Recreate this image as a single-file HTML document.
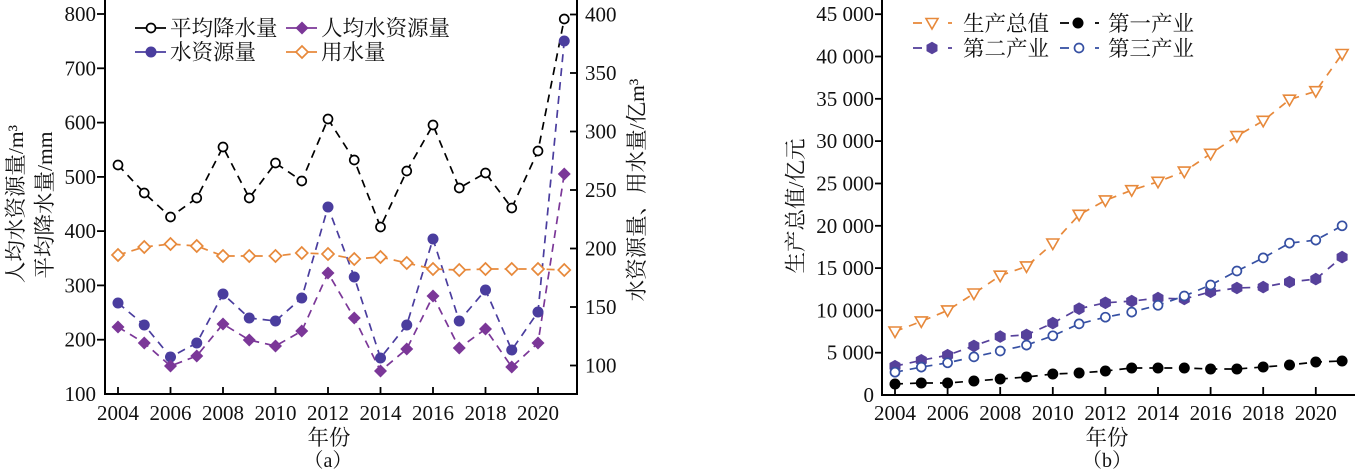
<!DOCTYPE html>
<html>
<head>
<meta charset="utf-8">
<style>
html,body{margin:0;padding:0;background:#fff;}
svg{display:block;}
text{font-family:"Liberation Serif","Noto Serif CJK SC",serif;fill:#111;}
.t{font-size:21px;}
.c{font-size:21.5px;}
</style>
</head>
<body>
<svg width="1355" height="471" viewBox="0 0 1355 471" xmlns="http://www.w3.org/2000/svg">
<defs>
  <circle id="ocB" r="4.5" fill="#fff" stroke="#000" stroke-width="1.7"/>
  <circle id="fcBlue" r="5.5" fill="#4A3D9E"/>
  <path id="dP" d="M0,-6.5 L6.5,0 L0,6.5 L-6.5,0Z" fill="#7B3798"/>
  <path id="dO" d="M0,-6 L6,0 L0,6 L-6,0Z" fill="#fff" stroke="#E7893B" stroke-width="1.7"/>
  <path id="tri" d="M-6,-4.5 L6,-4.5 L0,6 Z" fill="#fff" stroke="#E7893B" stroke-width="1.6" stroke-linejoin="miter"/>
  <path id="hex" d="M0,-6.3 L5.5,-3.15 L5.5,3.15 L0,6.3 L-5.5,3.15 L-5.5,-3.15Z" fill="#56419B"/>
  <circle id="fcK" r="5.5" fill="#000"/>
  <circle id="ocBl" r="4.5" fill="#fff" stroke="#3650A3" stroke-width="1.7"/>
</defs>

<!-- ================= LEFT CHART (a) ================= -->
<g stroke="#000" stroke-width="2" fill="none">
  <line x1="105" y1="0" x2="105" y2="395"/>
  <line x1="104" y1="394" x2="578" y2="394"/>
  <line x1="577" y1="0" x2="577" y2="395"/>
</g>
<!-- left ticks -->
<g stroke="#000" stroke-width="1.8">
  <line x1="97" y1="14" x2="105" y2="14"/>
  <line x1="97" y1="68.3" x2="105" y2="68.3"/>
  <line x1="97" y1="122.6" x2="105" y2="122.6"/>
  <line x1="97" y1="176.9" x2="105" y2="176.9"/>
  <line x1="97" y1="231.1" x2="105" y2="231.1"/>
  <line x1="97" y1="285.4" x2="105" y2="285.4"/>
  <line x1="97" y1="339.7" x2="105" y2="339.7"/>
  <!-- right ticks -->
  <line x1="570" y1="14.5" x2="577" y2="14.5"/>
  <line x1="570" y1="73" x2="577" y2="73"/>
  <line x1="570" y1="131.5" x2="577" y2="131.5"/>
  <line x1="570" y1="190" x2="577" y2="190"/>
  <line x1="570" y1="248.5" x2="577" y2="248.5"/>
  <line x1="570" y1="307" x2="577" y2="307"/>
  <line x1="570" y1="365.5" x2="577" y2="365.5"/>
  <!-- x ticks -->
  <line x1="118" y1="387" x2="118" y2="394"/>
  <line x1="170.5" y1="387" x2="170.5" y2="394"/>
  <line x1="223" y1="387" x2="223" y2="394"/>
  <line x1="275.5" y1="387" x2="275.5" y2="394"/>
  <line x1="328" y1="387" x2="328" y2="394"/>
  <line x1="380.5" y1="387" x2="380.5" y2="394"/>
  <line x1="433" y1="387" x2="433" y2="394"/>
  <line x1="485.5" y1="387" x2="485.5" y2="394"/>
  <line x1="538" y1="387" x2="538" y2="394"/>
</g>
<g class="t" text-anchor="end">
  <text x="96" y="21">800</text>
  <text x="96" y="75.3">700</text>
  <text x="96" y="129.6">600</text>
  <text x="96" y="183.9">500</text>
  <text x="96" y="238.1">400</text>
  <text x="96" y="292.4">300</text>
  <text x="96" y="346.7">200</text>
  <text x="96" y="401">100</text>
</g>
<g class="t" text-anchor="start">
  <text x="585" y="21.5">400</text>
  <text x="585" y="80">350</text>
  <text x="585" y="138.5">300</text>
  <text x="585" y="197">250</text>
  <text x="585" y="255.5">200</text>
  <text x="585" y="314">150</text>
  <text x="585" y="372.5">100</text>
</g>
<g class="t" text-anchor="middle">
  <text x="118" y="420">2004</text>
  <text x="170.5" y="420">2006</text>
  <text x="223" y="420">2008</text>
  <text x="275.5" y="420">2010</text>
  <text x="328" y="420">2012</text>
  <text x="380.5" y="420">2014</text>
  <text x="433" y="420">2016</text>
  <text x="485.5" y="420">2018</text>
  <text x="538" y="420">2020</text>
</g>
<text class="c" x="329" y="445" text-anchor="middle">年份</text>
<text class="c" x="328" y="467" text-anchor="middle" style="font-size:20px">（a）</text>
<text class="c" transform="translate(23,204) rotate(-90)" text-anchor="middle">人均水资源量/m³</text>
<text class="c" transform="translate(52,205) rotate(-90)" text-anchor="middle">平均降水量/mm</text>
<text class="c" transform="translate(644,190) rotate(-90)" text-anchor="middle">水资源量、用水量/亿m³</text>

<!-- series lines -->
<g fill="none" stroke-width="1.7" stroke-dasharray="8 6">
  <polyline stroke="#000" points="118,165 144.25,193 170.5,217 196.75,198 223,147 249.25,198 275.5,163 301.75,181 328,119 354.25,160 380.5,227 406.75,171 433,125 459.25,188 485.5,173 511.75,208 538,151 564.25,19"/>
  <polyline stroke="#4A3D9E" points="118,303 144.25,325 170.5,357 196.75,343 223,294 249.25,318 275.5,321 301.75,298 328,207 354.25,277 380.5,358 406.75,325 433,239 459.25,321 485.5,290 511.75,350 538,312 564.25,41"/>
  <polyline stroke="#7B3798" points="118,327 144.25,343 170.5,366 196.75,356 223,324 249.25,340 275.5,346 301.75,331 328,273 354.25,318 380.5,371 406.75,349 433,296 459.25,348 485.5,329 511.75,367 538,343 564.25,174"/>
  <polyline stroke="#E7893B" points="118,255 144.25,247 170.5,244 196.75,246 223,256 249.25,256 275.5,256 301.75,253 328,254 354.25,259 380.5,257 406.75,263 433,269 459.25,270 485.5,269 511.75,269 538,269 564.25,270"/>
</g>
<!-- markers -->
<g>
  <use href="#ocB" x="118" y="165"/><use href="#ocB" x="144.25" y="193"/><use href="#ocB" x="170.5" y="217"/><use href="#ocB" x="196.75" y="198"/><use href="#ocB" x="223" y="147"/><use href="#ocB" x="249.25" y="198"/><use href="#ocB" x="275.5" y="163"/><use href="#ocB" x="301.75" y="181"/><use href="#ocB" x="328" y="119"/><use href="#ocB" x="354.25" y="160"/><use href="#ocB" x="380.5" y="227"/><use href="#ocB" x="406.75" y="171"/><use href="#ocB" x="433" y="125"/><use href="#ocB" x="459.25" y="188"/><use href="#ocB" x="485.5" y="173"/><use href="#ocB" x="511.75" y="208"/><use href="#ocB" x="538" y="151"/><use href="#ocB" x="564.25" y="19"/>

  <use href="#dO" x="118" y="255"/><use href="#dO" x="144.25" y="247"/><use href="#dO" x="170.5" y="244"/><use href="#dO" x="196.75" y="246"/><use href="#dO" x="223" y="256"/><use href="#dO" x="249.25" y="256"/><use href="#dO" x="275.5" y="256"/><use href="#dO" x="301.75" y="253"/><use href="#dO" x="328" y="254"/><use href="#dO" x="354.25" y="259"/><use href="#dO" x="380.5" y="257"/><use href="#dO" x="406.75" y="263"/><use href="#dO" x="433" y="269"/><use href="#dO" x="459.25" y="270"/><use href="#dO" x="485.5" y="269"/><use href="#dO" x="511.75" y="269"/><use href="#dO" x="538" y="269"/><use href="#dO" x="564.25" y="270"/>

  <use href="#fcBlue" x="118" y="303"/><use href="#fcBlue" x="144.25" y="325"/><use href="#fcBlue" x="170.5" y="357"/><use href="#fcBlue" x="196.75" y="343"/><use href="#fcBlue" x="223" y="294"/><use href="#fcBlue" x="249.25" y="318"/><use href="#fcBlue" x="275.5" y="321"/><use href="#fcBlue" x="301.75" y="298"/><use href="#fcBlue" x="328" y="207"/><use href="#fcBlue" x="354.25" y="277"/><use href="#fcBlue" x="380.5" y="358"/><use href="#fcBlue" x="406.75" y="325"/><use href="#fcBlue" x="433" y="239"/><use href="#fcBlue" x="459.25" y="321"/><use href="#fcBlue" x="485.5" y="290"/><use href="#fcBlue" x="511.75" y="350"/><use href="#fcBlue" x="538" y="312"/><use href="#fcBlue" x="564.25" y="41"/>

  <use href="#dP" x="118" y="327"/><use href="#dP" x="144.25" y="343"/><use href="#dP" x="170.5" y="366"/><use href="#dP" x="196.75" y="356"/><use href="#dP" x="223" y="324"/><use href="#dP" x="249.25" y="340"/><use href="#dP" x="275.5" y="346"/><use href="#dP" x="301.75" y="331"/><use href="#dP" x="328" y="273"/><use href="#dP" x="354.25" y="318"/><use href="#dP" x="380.5" y="371"/><use href="#dP" x="406.75" y="349"/><use href="#dP" x="433" y="296"/><use href="#dP" x="459.25" y="348"/><use href="#dP" x="485.5" y="329"/><use href="#dP" x="511.75" y="367"/><use href="#dP" x="538" y="343"/><use href="#dP" x="564.25" y="174"/>
</g>

<!-- left legend -->
<g stroke-width="1.8">
  <line x1="135" y1="28" x2="166" y2="28" stroke="#000"/>
  <line x1="286" y1="28" x2="317" y2="28" stroke="#7B3798"/>
  <line x1="135" y1="52" x2="166" y2="52" stroke="#4A3D9E"/>
  <line x1="286" y1="52" x2="317" y2="52" stroke="#E7893B"/>
</g>
<use href="#ocB" x="151" y="28"/>
<use href="#dP" x="302" y="28"/>
<use href="#fcBlue" x="151" y="52"/>
<use href="#dO" x="302" y="52"/>
<g class="c">
  <text x="170" y="35.5">平均降水量</text>
  <text x="321" y="35.5">人均水资源量</text>
  <text x="170" y="59.5">水资源量</text>
  <text x="321" y="59.5">用水量</text>
</g>

<!-- ================= RIGHT CHART (b) ================= -->
<g stroke="#000" stroke-width="2" fill="none">
  <line x1="882" y1="0" x2="882" y2="396"/>
  <line x1="881" y1="395" x2="1355" y2="395"/>
</g>
<g stroke="#000" stroke-width="1.8">
  <line x1="875" y1="14.2" x2="882" y2="14.2"/>
  <line x1="875" y1="56.5" x2="882" y2="56.5"/>
  <line x1="875" y1="98.8" x2="882" y2="98.8"/>
  <line x1="875" y1="141.1" x2="882" y2="141.1"/>
  <line x1="875" y1="183.5" x2="882" y2="183.5"/>
  <line x1="875" y1="225.8" x2="882" y2="225.8"/>
  <line x1="875" y1="268.1" x2="882" y2="268.1"/>
  <line x1="875" y1="310.4" x2="882" y2="310.4"/>
  <line x1="875" y1="352.7" x2="882" y2="352.7"/>
  <line x1="895" y1="387" x2="895" y2="395"/>
  <line x1="947.6" y1="387" x2="947.6" y2="395"/>
  <line x1="1000.2" y1="387" x2="1000.2" y2="395"/>
  <line x1="1052.8" y1="387" x2="1052.8" y2="395"/>
  <line x1="1105.4" y1="387" x2="1105.4" y2="395"/>
  <line x1="1158" y1="387" x2="1158" y2="395"/>
  <line x1="1210.6" y1="387" x2="1210.6" y2="395"/>
  <line x1="1263.2" y1="387" x2="1263.2" y2="395"/>
  <line x1="1315.8" y1="387" x2="1315.8" y2="395"/>
</g>
<g class="t" text-anchor="end">
  <text x="874" y="21.2">45 000</text>
  <text x="874" y="63.5">40 000</text>
  <text x="874" y="105.8">35 000</text>
  <text x="874" y="148.1">30 000</text>
  <text x="874" y="190.5">25 000</text>
  <text x="874" y="232.8">20 000</text>
  <text x="874" y="275.1">15 000</text>
  <text x="874" y="317.4">10 000</text>
  <text x="874" y="359.7">5 000</text>
  <text x="874" y="402">0</text>
</g>
<g class="t" text-anchor="middle">
  <text x="895" y="420">2004</text>
  <text x="947.6" y="420">2006</text>
  <text x="1000.2" y="420">2008</text>
  <text x="1052.8" y="420">2010</text>
  <text x="1105.4" y="420">2012</text>
  <text x="1158" y="420">2014</text>
  <text x="1210.6" y="420">2016</text>
  <text x="1263.2" y="420">2018</text>
  <text x="1315.8" y="420">2020</text>
</g>
<text class="c" x="1107" y="445" text-anchor="middle">年份</text>
<text class="c" x="1107" y="467" text-anchor="middle" style="font-size:20px">（b）</text>
<text class="c" transform="translate(803,206) rotate(-90)" text-anchor="middle">生产总值/亿元</text>

<g fill="none" stroke-width="1.7" stroke-dasharray="8 7">
  <polyline stroke="#E7893B" points="895,331.5 921.3,321.4 947.6,310.4 973.9,293.5 1000.2,275.7 1026.5,266.4 1052.8,243.5 1079.1,214.8 1105.4,200.4 1131.7,190.2 1158,181.8 1184.3,171.6 1210.6,153.8 1236.9,136.1 1263.2,120.8 1289.5,99.7 1315.8,91.2 1342.1,54"/>
  <polyline stroke="#56419B" points="895,366.2 921.3,360.3 947.6,355.2 973.9,345.9 1000.2,336.6 1026.5,334.9 1052.8,323.1 1079.1,308.7 1105.4,302.8 1131.7,301.1 1158,298.1 1184.3,299 1210.6,291.8 1236.9,288 1263.2,287.1 1289.5,282 1315.8,279.1 1342.1,257.1"/>
  <polyline stroke="#3650A3" points="895,372.2 921.3,367.1 947.6,362.8 973.9,356.9 1000.2,351 1026.5,345.1 1052.8,335.8 1079.1,323.9 1105.4,317.2 1131.7,312.1 1158,305.3 1184.3,296 1210.6,285 1236.9,271 1263.2,257.9 1289.5,243.1 1315.8,240.1 1342.1,225.8"/>
  <polyline stroke="#000" points="895,384 921.3,383 947.6,383 973.9,381 1000.2,379 1026.5,377 1052.8,374 1079.1,373 1105.4,371 1131.7,368 1158,368 1184.3,368 1210.6,369 1236.9,369 1263.2,367 1289.5,365 1315.8,362 1342.1,361"/>
</g>
<g>
  <use href="#tri" x="895" y="331.5"/><use href="#tri" x="921.3" y="321.4"/><use href="#tri" x="947.6" y="310.4"/><use href="#tri" x="973.9" y="293.5"/><use href="#tri" x="1000.2" y="275.7"/><use href="#tri" x="1026.5" y="266.4"/><use href="#tri" x="1052.8" y="243.5"/><use href="#tri" x="1079.1" y="214.8"/><use href="#tri" x="1105.4" y="200.4"/><use href="#tri" x="1131.7" y="190.2"/><use href="#tri" x="1158" y="181.8"/><use href="#tri" x="1184.3" y="171.6"/><use href="#tri" x="1210.6" y="153.8"/><use href="#tri" x="1236.9" y="136.1"/><use href="#tri" x="1263.2" y="120.8"/><use href="#tri" x="1289.5" y="99.7"/><use href="#tri" x="1315.8" y="91.2"/><use href="#tri" x="1342.1" y="54"/>

  <use href="#hex" x="895" y="366.2"/><use href="#hex" x="921.3" y="360.3"/><use href="#hex" x="947.6" y="355.2"/><use href="#hex" x="973.9" y="345.9"/><use href="#hex" x="1000.2" y="336.6"/><use href="#hex" x="1026.5" y="334.9"/><use href="#hex" x="1052.8" y="323.1"/><use href="#hex" x="1079.1" y="308.7"/><use href="#hex" x="1105.4" y="302.8"/><use href="#hex" x="1131.7" y="301.1"/><use href="#hex" x="1158" y="298.1"/><use href="#hex" x="1184.3" y="299"/><use href="#hex" x="1210.6" y="291.8"/><use href="#hex" x="1236.9" y="288"/><use href="#hex" x="1263.2" y="287.1"/><use href="#hex" x="1289.5" y="282"/><use href="#hex" x="1315.8" y="279.1"/><use href="#hex" x="1342.1" y="257.1"/>

  <use href="#ocBl" x="895" y="372.2"/><use href="#ocBl" x="921.3" y="367.1"/><use href="#ocBl" x="947.6" y="362.8"/><use href="#ocBl" x="973.9" y="356.9"/><use href="#ocBl" x="1000.2" y="351"/><use href="#ocBl" x="1026.5" y="345.1"/><use href="#ocBl" x="1052.8" y="335.8"/><use href="#ocBl" x="1079.1" y="323.9"/><use href="#ocBl" x="1105.4" y="317.2"/><use href="#ocBl" x="1131.7" y="312.1"/><use href="#ocBl" x="1158" y="305.3"/><use href="#ocBl" x="1184.3" y="296"/><use href="#ocBl" x="1210.6" y="285"/><use href="#ocBl" x="1236.9" y="271"/><use href="#ocBl" x="1263.2" y="257.9"/><use href="#ocBl" x="1289.5" y="243.1"/><use href="#ocBl" x="1315.8" y="240.1"/><use href="#ocBl" x="1342.1" y="225.8"/>

  <use href="#fcK" x="895" y="384"/><use href="#fcK" x="921.3" y="383"/><use href="#fcK" x="947.6" y="383"/><use href="#fcK" x="973.9" y="381"/><use href="#fcK" x="1000.2" y="379"/><use href="#fcK" x="1026.5" y="377"/><use href="#fcK" x="1052.8" y="374"/><use href="#fcK" x="1079.1" y="373"/><use href="#fcK" x="1105.4" y="371"/><use href="#fcK" x="1131.7" y="368"/><use href="#fcK" x="1158" y="368"/><use href="#fcK" x="1184.3" y="368"/><use href="#fcK" x="1210.6" y="369"/><use href="#fcK" x="1236.9" y="369"/><use href="#fcK" x="1263.2" y="367"/><use href="#fcK" x="1289.5" y="365"/><use href="#fcK" x="1315.8" y="362"/><use href="#fcK" x="1342.1" y="361"/>
</g>

<!-- right legend -->
<g stroke-width="1.8">
  <line x1="913" y1="23" x2="922" y2="23" stroke="#E7893B"/>
  <line x1="948" y1="23" x2="952" y2="23" stroke="#E7893B"/>
  <line x1="1060" y1="23" x2="1069" y2="23" stroke="#000"/>
  <line x1="1095" y1="23" x2="1099" y2="23" stroke="#000"/>
  <line x1="913" y1="48" x2="922" y2="48" stroke="#56419B"/>
  <line x1="948" y1="48" x2="952" y2="48" stroke="#56419B"/>
  <line x1="1060" y1="48" x2="1069" y2="48" stroke="#3650A3"/>
  <line x1="1095" y1="48" x2="1099" y2="48" stroke="#3650A3"/>
</g>
<use href="#tri" x="932" y="23"/>
<use href="#fcK" x="1078" y="23"/>
<use href="#hex" x="932" y="48"/>
<use href="#ocBl" x="1079" y="48"/>
<g class="c">
  <text x="963" y="31">生产总值</text>
  <text x="1108" y="31">第一产业</text>
  <text x="963" y="56">第二产业</text>
  <text x="1108" y="56">第三产业</text>
</g>
</svg>
</body>
</html>
